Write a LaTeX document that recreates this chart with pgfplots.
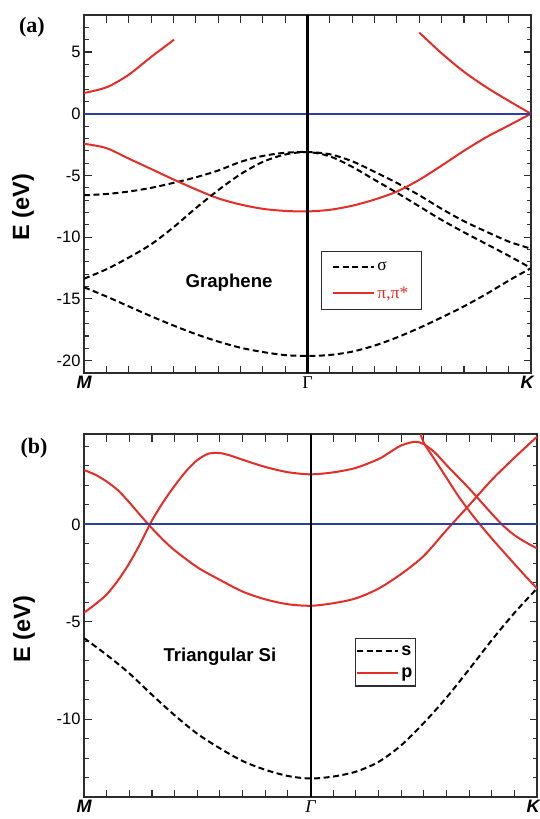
\documentclass[border=0pt]{standalone}
\usepackage{fontspec}
\setmainfont{Liberation Sans}
\newfontfamily\tnr{Liberation Serif}
\usepackage{pgfplots}
\pgfplotsset{compat=1.18}
\definecolor{bandred}{RGB}{228,45,38}
\definecolor{fermiblue}{RGB}{44,64,160}
\definecolor{framegray}{RGB}{45,45,45}

\newcommand\kpt[1]{{\fontsize{18}{20}\selectfont\bfseries\itshape #1}}
\pgfplotsset{
  bands/.style={
    scale only axis, clip=true,
    xmin=0, xmax=20, xtick={0,1,...,20},
    xtick pos=both, ytick pos=both, xticklabel pos=lower, yticklabel pos=left,
    tick align=inside,
    major tick length=7.5pt, minor tick length=4.5pt,
    every tick/.style={framegray, line width=1.1pt},
    axis line style={framegray, line width=1.3pt},
    tick label style={font=\fontsize{16.5}{18}\selectfont},
    /pgf/number format/assume math mode=true,
    legend cell align=left,
    legend image code/.code={\draw[##1] (0pt,0pt) -- (41pt,0pt);},
  },
  sig/.style={black, line width=2pt, dash pattern=on 6pt off 3.5pt, smooth},
  pib/.style={bandred, line width=2pt, smooth},
}

\begin{document}
\begin{tikzpicture}
\path[use as bounding box] (0pt,0pt) rectangle (539pt,-819pt);

% (a) graphene
\begin{axis}[bands, at={(84pt,-373pt)}, anchor=south west, width=447pt, height=358pt,
  ymin=-21, ymax=8, ytick={-20,-15,...,5}, minor ytick={-21,...,8},
  xticklabels={\kpt{M},{},{},{},{},{},{},{},{},{},{\tnr\fontsize{18}{20}\selectfont Γ},{},{},{},{},{},{},{},{},{},{\kpt{K}\kern8pt}},
  legend style={at={(0.530,0.341)}, anchor=north west, draw=framegray, line width=1.1pt,
    inner xsep=11pt, inner ysep=8pt, row sep=11pt, font=\tnr\fontsize{17.5}{19}\selectfont}]
\addplot[sig] coordinates {(0,-6.6) (1,-6.5) (2,-6.3) (3,-6.0) (4,-5.6) (5,-5.15) (6,-4.6) (7,-3.9) (8,-3.42) (9,-3.16) (10,-3.1)
  (11,-3.28) (12,-3.85) (13,-4.7) (14,-5.6) (15,-6.6) (16,-7.7) (17,-8.7) (18,-9.55) (19,-10.35) (20,-10.93)};
\addlegendentry{σ}
\addplot[pib] coordinates {(0,-2.43) (1,-2.78) (2,-3.63) (3,-4.47) (4,-5.32) (5,-6.12) (6,-6.85) (7,-7.35) (8,-7.7) (9,-7.87) (10,-7.91)
  (11,-7.78) (12,-7.45) (13,-6.95) (14,-6.3) (15,-5.35) (16,-4.2) (17,-3.0) (18,-1.9) (19,-0.95) (20,0)};
\addlegendentry{\textcolor{bandred}{π,π*}}
\addplot[sig, forget plot] coordinates {(0,-13.36) (1,-12.6) (2,-11.65) (3,-10.58) (4,-9.2) (5,-7.65) (6,-6.2) (7,-4.9) (8,-3.9) (9,-3.3) (10,-3.1)
  (11,-3.45) (12,-4.3) (13,-5.35) (14,-6.4) (15,-7.5) (16,-8.6) (17,-9.6) (18,-10.55) (19,-11.5) (20,-12.5)};
\addplot[sig, forget plot] coordinates {(0,-14.05) (1,-14.8) (2,-15.6) (3,-16.4) (4,-17.15) (5,-17.85) (6,-18.45) (7,-18.95) (8,-19.3) (9,-19.55) (10,-19.62)
  (11,-19.54) (12,-19.27) (13,-18.78) (14,-18.12) (15,-17.35) (16,-16.5) (17,-15.6) (18,-14.6) (19,-13.52) (20,-12.5)};
\addplot[pib, forget plot] coordinates {(0,1.68) (1.03,2.16) (2,3.16) (3.03,4.64) (4.03,6.0)};
\addplot[pib, forget plot] coordinates {(15,6.58) (16,4.9) (17,3.4) (18,2.15) (19,1.05) (20,0)};
\addplot[fermiblue, line width=2pt, forget plot] coordinates {(0,0) (20,0)};
\addplot[black, line width=2.3pt, forget plot] coordinates {(10,-21) (10,8)};
\node[font=\bfseries\fontsize{18.6}{20}\selectfont] at (axis cs:6.49,-13.68) {Graphene};
\end{axis}

% (b) triangular Si
\begin{axis}[bands, at={(84pt,-797pt)}, anchor=south west, width=453pt, height=363pt,
  ymin=-14, ymax=4.64, ytick={-10,-5,0}, minor ytick={-14,...,4},
  xticklabels={\kpt{M},{},{},{},{},{},{},{},{},{},{\tnr\fontsize{18}{20}\selectfont\itshape Γ},{},{},{},{},{},{},{},{},{},{\kpt{K}\kern8pt}},
  legend style={at={(0.598,0.438)}, anchor=north west, draw=framegray, line width=1.1pt,
    inner xsep=1pt, inner ysep=5pt, row sep=7pt, font=\bfseries\fontsize{18}{20}\selectfont}]
\addplot[sig] coordinates {(0,-5.84) (1,-6.7) (2,-7.65) (3,-8.75) (4,-9.8) (5,-10.75) (6,-11.5) (7,-12.15) (8,-12.6) (9,-12.92) (10,-13.05)
  (11,-12.95) (12,-12.7) (13,-12.2) (14,-11.35) (15,-10.2) (16,-8.9) (17,-7.45) (18,-5.95) (19,-4.55) (20,-3.29)};
\addlegendentry{s}
\addplot[pib] coordinates {(0,2.79) (0.5,2.55) (1,2.2) (1.5,1.75) (2,1.13) (2.5,0.45) (3,-0.2) (3.5,-0.8) (4,-1.33) (5,-2.2) (6,-2.85) (7,-3.45) (8,-3.85) (9,-4.1) (10,-4.18)
  (11,-4.05) (12,-3.8) (13,-3.3) (14,-2.55) (15,-1.62) (16,-0.3) (17,0.98) (18,2.28) (19,3.42) (20,4.5)};
\addlegendentry{p}
\addplot[pib, forget plot] coordinates {(0,-4.54) (0.5,-4.1) (1,-3.6) (1.5,-2.88) (2,-2.0) (2.5,-0.95) (3,0.2) (3.5,1.15) (4,1.98) (4.5,2.72) (5,3.3) (5.5,3.63) (6,3.66) (6.5,3.52) (7,3.32) (8,2.95) (9,2.68) (10,2.57)
  (11,2.67) (12,2.9) (13,3.35) (13.5,3.7) (14,4.05) (14.6,4.24) (15,4.12) (15.5,3.68) (16,3.05) (16.5,2.45) (17,1.85) (17.5,1.2) (18,0.55) (18.5,-0.06) (19,-0.55) (19.5,-0.92) (20,-1.23)};
\addplot[pib, forget plot] coordinates {(14.8,4.9) (15,4.2) (15.5,3.3) (16,2.4) (16.5,1.5) (17,0.7) (17.5,-0.03) (18,-0.72) (18.5,-1.38) (19,-2.03) (19.5,-2.67) (20,-3.29)};
\addplot[fermiblue, line width=2pt, forget plot] coordinates {(0,0) (20,0)};
\addplot[black, line width=2pt, forget plot] coordinates {(10,-14) (10,4.64)};
\node[font=\bfseries\fontsize{18.6}{20}\selectfont] at (axis cs:6.0,-6.82) {Triangular Si};
\end{axis}

\node[font=\tnr\bfseries\fontsize{22}{24}\selectfont] at (32pt,-27pt) {(a)};
\node[font=\tnr\bfseries\fontsize{22}{24}\selectfont] at (34pt,-448pt) {(b)};
\node[rotate=90, font=\bfseries\fontsize{23.5}{25}\selectfont] at (23pt,-207pt) {E (eV)};
\node[rotate=90, font=\bfseries\fontsize{23.5}{25}\selectfont] at (24pt,-629pt) {E (eV)};
\end{tikzpicture}
\end{document}
